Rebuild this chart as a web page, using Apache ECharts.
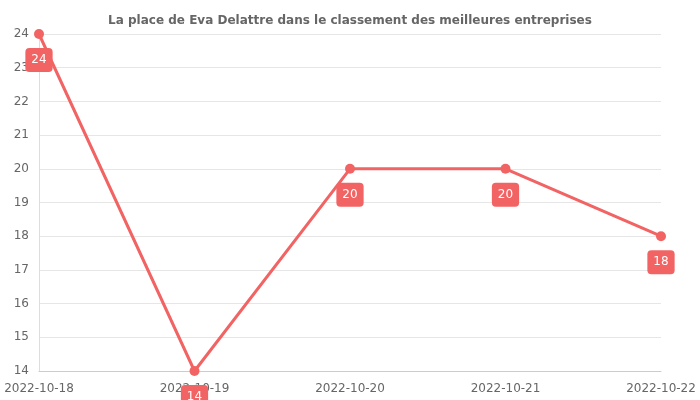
<!DOCTYPE html>
<html>
<head>
<meta charset="utf-8">
<script src="https://cdn.jsdelivr.net/npm/echarts@6/dist/echarts.min.js"></script>
<style>html,body{margin:0;padding:0;}#chart{width:700px;height:400px;}</style>
</head>
<body>
<div id="chart"></div>
<script>
var categories = ['2022-10-18', '2022-10-19', '2022-10-20', '2022-10-21', '2022-10-22'];
var ranks = [24, 14, 20, 20, 18];
var titleText = 'La place de Eva Delattre dans le classement des meilleures entreprises';

var lineColor = '#f26464';
var myChart = echarts.init(document.getElementById('chart'));
var option = {
    textStyle: { fontFamily: 'DejaVu Sans' },
    title: {
        text: titleText,
        left: 'center',
        top: 10,
        textStyle: { fontSize: 12, fontWeight: 'bold', color: '#666' }
    },
    grid: { left: 39, right: 39, top: 34, bottom: 29 },
    xAxis: {
        type: 'category',
        boundaryGap: false,
        data: categories,
        axisLine: { lineStyle: { color: '#ccc' } },
        axisTick: { show: false },
        axisLabel: { color: '#666', fontSize: 12, margin: 12 }
    },
    yAxis: {
        type: 'value',
        min: 14,
        max: 24,
        interval: 1,
        axisLine: { show: true, lineStyle: { color: '#ddd' } },
        splitLine: { lineStyle: { color: '#e6e6e6' } },
        axisLabel: { color: '#666', fontSize: 12, margin: 10 }
    },
    series: [{
        type: 'line',
        data: ranks,
        symbol: 'circle',
        symbolSize: 10,
        lineStyle: { color: lineColor, width: 3 },
        itemStyle: { color: lineColor },
        label: {
            show: true,
            position: 'bottom',
            distance: 9,
            color: '#fff',
            fontSize: 12,
            backgroundColor: lineColor,
            borderRadius: 4,
            padding: [6, 6]
        }
    }]
};
myChart.setOption(option);
</script>
</body>
</html>
